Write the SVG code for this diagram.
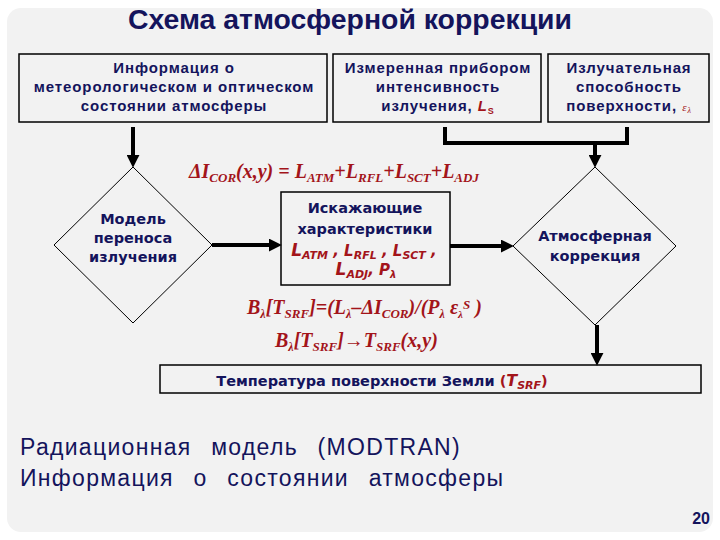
<svg xmlns="http://www.w3.org/2000/svg" width="720" height="540" viewBox="0 0 720 540">
<defs>
<style>
.nv{fill:#14145c;font-family:"Liberation Sans",Arial,sans-serif;font-weight:bold}
.bx{font-size:15px;letter-spacing:0.9px}
.dv{fill:#14145c;font-family:"DejaVu Sans",Verdana,sans-serif;font-weight:bold;font-size:14.5px}
.rd{fill:#a3141a}
.fm{fill:#a3141a;font-family:"Liberation Serif","Times New Roman",serif;font-weight:bold;font-style:italic;font-size:20px}
.sl{fill:#a3141a;font-family:"DejaVu Sans",Verdana,sans-serif;font-weight:bold;font-style:italic}
.nt{fill:#14145c;font-family:"Liberation Sans",Arial,sans-serif;font-size:23px;letter-spacing:1.3px;word-spacing:12px}
.box{fill:#f2f2f2;stroke:#000;stroke-width:1.5}
.dia{fill:none;stroke:#000;stroke-width:1}
.con{fill:none;stroke:#000;stroke-width:4}
</style>
<marker id="ah" viewBox="0 0 12 12" refX="2" refY="6" markerWidth="13" markerHeight="13" markerUnits="userSpaceOnUse" orient="auto">
<path d="M0,0 L12,6 L0,12 z" fill="#000"/>
</marker>
</defs>
<rect x="0" y="0" width="720" height="540" fill="#fff"/>
<rect x="7" y="8" width="706" height="524" rx="14" fill="#f2f2f2"/>
<text x="128" y="29" class="nv" font-size="27" textLength="444" lengthAdjust="spacingAndGlyphs">Схема атмосферной коррекции</text>

<g id="box1">
<rect class="box" x="19" y="54" width="308" height="68"/>
<text class="nv bx" text-anchor="middle"><tspan x="174" y="73">Информация  о</tspan><tspan x="174" y="92">метеорологическом и оптическом</tspan><tspan x="174" y="111">состоянии атмосферы</tspan></text>
</g>
<g id="box2">
<rect class="box" x="333" y="54" width="208" height="68"/>
<text class="nv bx" text-anchor="middle"><tspan x="438" y="73">Измеренная  прибором</tspan><tspan x="438" y="92">интенсивность</tspan><tspan x="438" y="111">излучения, <tspan class="rd" font-style="italic">L</tspan><tspan class="rd" font-size="9" dy="3">S</tspan></tspan></text>
</g>
<g id="box3">
<rect class="box" x="548" y="54" width="161" height="68"/>
<text class="nv bx" text-anchor="middle"><tspan x="629" y="73">Излучательная</tspan><tspan x="629" y="92">способность</tspan><tspan x="629" y="111">поверхности, <tspan class="rd" font-weight="normal" font-style="italic" font-size="11" font-family="Liberation Serif,serif">ε</tspan><tspan class="rd" font-weight="normal" font-style="italic" font-size="8" dy="2" font-family="Liberation Serif,serif">λ</tspan></tspan></text>
</g>

<g id="model">
<polygon class="dia" points="133,167 212,245 133,323 54,245"/>
<text class="dv" text-anchor="middle"><tspan x="133" y="224">Модель</tspan><tspan x="133" y="243">переноса</tspan><tspan x="133" y="262">излучения</tspan></text>
</g>
<g id="distort">
<rect class="box" x="281" y="192" width="169" height="93"/>
<text class="dv" text-anchor="middle"><tspan x="365" y="213">Искажающие</tspan><tspan x="365" y="234">характеристики</tspan></text>
<text class="sl" text-anchor="middle" x="364" y="256"><tspan font-size="17">L</tspan><tspan font-size="11" dy="3">ATM</tspan><tspan font-size="15" dy="-3"> , L</tspan><tspan font-size="11" dy="3">RFL</tspan><tspan font-size="15" dy="-3"> , L</tspan><tspan font-size="11" dy="3">SCT</tspan><tspan font-size="15" dy="-3"> ,</tspan></text>
<text class="sl" text-anchor="middle" x="366" y="275"><tspan font-size="17">L</tspan><tspan font-size="11" dy="3">ADJ</tspan><tspan font-size="15" dy="-3">, P</tspan><tspan font-size="10" dy="3">λ</tspan></text>
</g>
<g id="atmcorr">
<polygon class="dia" points="595,167 676,246 595,325 513,246"/>
<text class="dv" text-anchor="middle"><tspan x="595" y="241">Атмосферная</tspan><tspan x="595" y="261">коррекция</tspan></text>
</g>
<g id="surftemp">
<rect class="box" x="160" y="365" width="541" height="28"/>
<text x="382" y="386" text-anchor="middle" font-size="15" class="dv">Температура  поверхности  Земли <tspan class="rd" font-style="normal">(</tspan><tspan class="sl" font-size="16">T</tspan><tspan class="sl" font-size="11" dy="3">SRF</tspan><tspan class="rd" dy="-3">)</tspan></text>
</g>

<g id="formulas">
<text class="fm" x="189" y="178">ΔI<tspan font-size="13" dy="4">COR</tspan><tspan dy="-4">(x,y) = L</tspan><tspan font-size="13" dy="4">ATM</tspan><tspan dy="-4">+L</tspan><tspan font-size="13" dy="4">RFL</tspan><tspan dy="-4">+L</tspan><tspan font-size="13" dy="4">SCT</tspan><tspan dy="-4">+L</tspan><tspan font-size="13" dy="4">ADJ</tspan></text>
<text class="fm" x="247" y="314" font-size="18">B<tspan font-size="12" dy="4">λ</tspan><tspan dy="-4">[T</tspan><tspan font-size="13" dy="4">SRF</tspan><tspan dy="-4">]=(L</tspan><tspan font-size="12" dy="4">λ</tspan><tspan dy="-4">–ΔI</tspan><tspan font-size="13" dy="4">COR</tspan><tspan dy="-4">)/(P</tspan><tspan font-size="12" dy="4">λ</tspan><tspan dy="-4"> ε</tspan><tspan font-size="11" dy="4">λ</tspan><tspan font-size="13" dy="-9">S</tspan><tspan dy="5"> )</tspan></text>
<text class="fm" x="275" y="347" font-size="18">B<tspan font-size="12" dy="4">λ</tspan><tspan dy="-4">[T</tspan><tspan font-size="13" dy="4">SRF</tspan><tspan dy="-4">]→T</tspan><tspan font-size="13" dy="4">SRF</tspan><tspan dy="-4">(x,y)</tspan></text>
</g>

<g id="connectors">
<line class="con" x1="133" y1="127" x2="133" y2="157" marker-end="url(#ah)"/>
<line class="con" x1="212" y1="245" x2="271" y2="245" marker-end="url(#ah)"/>
<line class="con" x1="450" y1="246" x2="503" y2="246" marker-end="url(#ah)"/>
<polyline class="con" points="445,127 445,143 627,143 627,127"/>
<line class="con" x1="595" y1="143" x2="595" y2="157" marker-end="url(#ah)"/>
<line class="con" x1="597" y1="325" x2="597" y2="355" marker-end="url(#ah)"/>
</g>

<g id="notes">
<text x="20" y="455" class="nt">Радиационная модель (MODTRAN)</text>
<text x="20" y="486" class="nt">Информация о состоянии атмосферы</text>
<text x="710" y="524" text-anchor="end" class="nv" font-size="16">20</text>
</g>
</svg>
